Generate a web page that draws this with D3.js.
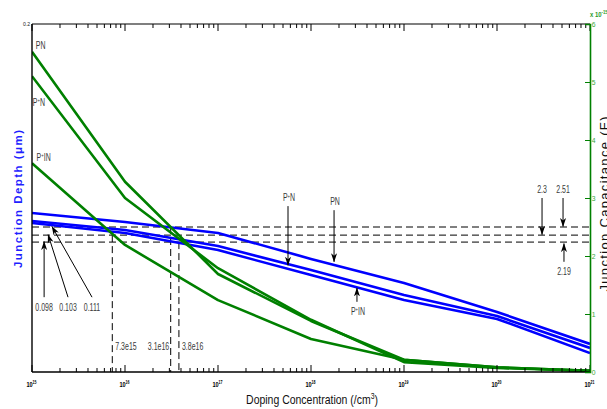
<!DOCTYPE html>
<html><head><meta charset="utf-8">
<script src="https://cdn.jsdelivr.net/npm/d3@7"></script>
<style>
html,body{margin:0;padding:0;background:#fff;}
svg{display:block;font-family:"Liberation Sans",Arial,sans-serif;}
</style></head>
<body>
<script>
// ---------- data ----------
const doping = [1e15, 1e16, 1e17, 1e18, 1e19, 1e20, 1e21];
const depthPN   = [0.0914, 0.0862, 0.0799, 0.0650, 0.0512, 0.0345, 0.0161];
const depthPpN  = [0.0868, 0.0816, 0.0724, 0.0586, 0.0443, 0.0322, 0.0138];
const depthPpIN = [0.0856, 0.0799, 0.0701, 0.0557, 0.0414, 0.0305, 0.0109];
const capPN   = [5.52, 3.28, 1.69, 0.88, 0.21, 0.08, 0.02];
const capPpN  = [5.10, 3.00, 1.79, 0.90, 0.17, 0.07, 0.02];
const capPpIN = [3.60, 2.19, 1.24, 0.57, 0.21, 0.08, 0.02];
const xTickExp = [15, 16, 17, 18, 19, 20, 21];
const rightTicks = [0, 1, 2, 3, 4, 5, 6];
const leftTicks = [0.2];
// crossing levels (capacitance, x1e-15 F) and their labels
const levels = [2.50, 2.36, 2.24];
const levelDepthLabels = ["0.111", "0.103", "0.098"];
const levelCapLabels = ["2.51", "2.3", "2.19"];
// vertical markers (doping) and the level they start from
const markDoping = [7.3e15, 3.1e16, 3.8e16];
const markTop = [2.36, 2.50, 2.24];
const markLabels = ["7.3e15", "3.1e16", "3.8e16"];

// ---------- layout ----------
const W = 607, H = 409;
const L = 32, R = 590, T = 24, B = 372;
const x = d3.scaleLog().domain([1e15, 1e21]).range([L, R]);
const yL = d3.scaleLinear().domain([0, 0.2]).range([B, T]);
const yR = d3.scaleLinear().domain([0, 6]).range([B, T]);

const svg = d3.select("body").append("svg").attr("width", W).attr("height", H);
const defs = svg.append("defs");
defs.append("marker").attr("id", "ah").attr("viewBox", "0 -4 9 8")
  .attr("refX", 8.5).attr("refY", 0).attr("markerWidth", 9).attr("markerHeight", 8)
  .attr("markerUnits", "userSpaceOnUse").attr("orient", "auto")
  .append("path").attr("d", "M0,-3 L9,0 L0,3 L2.5,0 Z").attr("fill", "#000");
defs.append("clipPath").attr("id", "clip").append("rect")
  .attr("x", L).attr("y", T - 2).attr("width", R - L).attr("height", B - T + 2);

const textCol = "#3a3a3a";

// ---------- dashed guide lines ----------
const g = svg.append("g");
g.selectAll("line.h").data(levels).join("line")
  .attr("x1", L).attr("x2", R).attr("y1", d => yR(d)).attr("y2", d => yR(d))
  .attr("stroke", "#000").attr("stroke-width", 1).attr("stroke-dasharray", "7,4");
g.selectAll("line.v").data(markDoping).join("line")
  .attr("x1", d => x(d)).attr("x2", d => x(d))
  .attr("y1", (d, i) => yR(markTop[i])).attr("y2", B)
  .attr("stroke", "#000").attr("stroke-width", 1).attr("stroke-dasharray", "7,4");

// ---------- curves ----------
const lineL = d3.line().x((d, i) => x(doping[i])).y(d => yL(d));
const lineR = d3.line().x((d, i) => x(doping[i])).y(d => yR(d));
const cg = svg.append("g").attr("clip-path", "url(#clip)");
[depthPN, depthPpN, depthPpIN].forEach(s =>
  cg.append("path").attr("d", lineL(s)).attr("fill", "none")
    .attr("stroke", "#0000ff").attr("stroke-width", 2.6).attr("stroke-linejoin", "round"));
[capPN, capPpN, capPpIN].forEach(s =>
  cg.append("path").attr("d", lineR(s)).attr("fill", "none")
    .attr("stroke", "#008000").attr("stroke-width", 2.6).attr("stroke-linejoin", "round"));

// ---------- axes ----------
const minor = [];
for (let e = 15; e < 21; e++) for (let m = 2; m <= 9; m++) minor.push(m * Math.pow(10, e));
const major = xTickExp.map(e => Math.pow(10, e));

const ax = svg.append("g");
function ticks(vals, y0, len) {
  ax.selectAll(null).data(vals).join("line")
    .attr("x1", d => x(d)).attr("x2", d => x(d)).attr("y1", y0).attr("y2", y0 + len)
    .attr("stroke", "#000").attr("stroke-width", 1);
}
ticks(minor, B, -4); ticks(major, B, -7);
ticks(minor, T, 4); ticks(major, T, 7);
ax.append("line").attr("x1", L).attr("x2", R).attr("y1", B).attr("y2", B).attr("stroke", "#000").attr("stroke-width", 1.6);
ax.append("line").attr("x1", L).attr("x2", R).attr("y1", T).attr("y2", T).attr("stroke", "#000").attr("stroke-width", 1.2);
ax.append("line").attr("x1", L).attr("x2", L).attr("y1", T).attr("y2", B).attr("stroke", "#000").attr("stroke-width", 1.4);

// condensed text helper: draws text at (px,py) squeezed horizontally
function squeezed(parent, px, py, sx, anchor) {
  return parent.append("g").attr("transform", `translate(${px},${py}) scale(${sx},1)`)
    .append("text").attr("x", 0).attr("y", 0).attr("text-anchor", anchor || "middle");
}

// x tick labels 10^n
xTickExp.forEach(e => {
  const t = squeezed(ax, x(Math.pow(10, e)) - 0.5, 387, 0.8, "middle")
    .attr("font-size", 7).attr("font-weight", "bold").attr("fill", "#000");
  t.append("tspan").text("10");
  t.append("tspan").attr("dy", -3).attr("font-size", 4.5).text(e);
});

// left axis: only the top label
leftTicks.forEach(v => squeezed(ax, L - 2, yL(v) + 2, 0.85, "end")
  .attr("font-size", 6).attr("fill", "#222").text(v));

// right axis (green)
const rAx = svg.append("g").attr("transform", `translate(${R},0)`)
  .call(d3.axisRight(yR).tickValues(rightTicks).tickSize(-5).tickPadding(2).tickFormat(d3.format("d")));
rAx.select(".domain").attr("stroke", "#008000").attr("stroke-width", 1.6);
rAx.selectAll(".tick line").attr("stroke", "#008000").attr("stroke-width", 1);
rAx.selectAll(".tick text").attr("fill", "#3aa63a").attr("font-size", 8)
  .attr("transform", "scale(0.85,1)");
const ex = squeezed(svg, R, 17, 0.85, "start").attr("font-size", 7)
  .attr("font-weight", "bold").attr("fill", "#2a9a2a");
ex.append("tspan").text("x 10");
ex.append("tspan").attr("dy", -3).attr("font-size", 5).text("-15");

// axis titles
svg.append("text").attr("transform", `translate(22,199) rotate(-90)`)
  .attr("text-anchor", "middle").attr("font-size", 11.5).attr("font-weight", "bold")
  .attr("fill", "#1f1fff").attr("textLength", 138).attr("lengthAdjust", "spacing")
  .text("Junction Depth (\u03bcm)");
svg.append("text").attr("transform", `translate(609,204) rotate(-90)`)
  .attr("text-anchor", "middle").attr("font-size", 13)
  .attr("fill", "#111").attr("textLength", 175).attr("lengthAdjust", "spacing")
  .text("Junction Capacitance (F)");
const xtG = svg.append("g");
const xt = xtG.append("text").attr("x", 0).attr("y", 0).attr("text-anchor", "middle")
  .attr("font-size", 13).attr("fill", "#111");
xt.append("tspan").text("Doping Concentration (/cm");
xt.append("tspan").attr("dy", -5).attr("font-size", 8.5).text("3");
xt.append("tspan").attr("dy", 5).text(")");
const xtw = xt.node().getBBox().width;
xtG.attr("transform", `translate(312,404) scale(${132 / xtw},1)`);

// ---------- annotations ----------
const ann = svg.append("g").attr("fill", textCol).attr("font-size", 10);
function arrow(x1, y1, x2, y2) {
  ann.append("line").attr("x1", x1).attr("y1", y1).attr("x2", x2).attr("y2", y2)
    .attr("stroke", "#000").attr("stroke-width", 1).attr("marker-end", "url(#ah)");
}
function label(t, px, py, anchor) {
  const el = squeezed(ann, px, py, 0.7, anchor);
  const parts = t.split("+");
  if (parts.length === 2) {
    el.append("tspan").text(parts[0]);
    el.append("tspan").attr("dy", -3.5).attr("font-size", 6).text("+");
    el.append("tspan").attr("dy", 3.5).text(parts[1]);
  } else el.text(t);
  return el;
}

// depth arrows (bottom-left)
const depthTailX = [1.35e15, 2.44e15, 4.42e15];
const depthHeadX = [1.35e15, 1.49e15, 1.64e15];
const depthRev = [2, 1, 0]; // label order 0.098, 0.103, 0.111
depthRev.forEach((li, k) => {
  arrow(x(depthTailX[k]), yR(1.29), x(depthHeadX[k]), yR(levels[li]) - 0.5);
  label(levelDepthLabels[li], x(depthTailX[k]), yR(1.29) + 14);
});

// capacitance arrows (right)
const capArrowX = [5.13e20, 3.05e20, 5.25e20];
[0, 1].forEach(i => {
  arrow(x(capArrowX[i]), yR(3.0), x(capArrowX[i]), yR(levels[i]) - 0.5);
  label(levelCapLabels[i], x(capArrowX[i]), yR(3.0) - 5);
});
arrow(x(capArrowX[2]), yR(1.9), x(capArrowX[2]), yR(levels[2]) + 1.5);
label(levelCapLabels[2], x(capArrowX[2]), yR(1.9) + 13);

// vertical marker labels
markDoping.forEach((d, i) => {
  label(markLabels[i], i === 1 ? x(d) - 1.5 : x(d) + 3, 350, i === 1 ? "end" : "start");
});

// curve labels with arrows
const curveArrows = [
  {t: "P+N", xd: 5.66e17, tail: 2.86, head: 1.84, up: false},
  {t: "PN", xd: 1.77e18, tail: 2.79, head: 1.90, up: false},
  {t: "P+IN", xd: 3.12e18, tail: 1.21, head: 1.45, up: true}
];
curveArrows.forEach(c => {
  arrow(x(c.xd), yR(c.tail), x(c.xd), yR(c.head));
  label(c.t, x(c.xd) + 1, c.up ? yR(c.tail) + 13 : yR(c.tail) - 5);
});

// green curve labels
const greenLabels = [
  {t: "PN", xd: 1.1e15, v: 5.57},
  {t: "P+N", xd: 1.02e15, v: 4.59},
  {t: "P+IN", xd: 1.12e15, v: 3.64}
];
greenLabels.forEach(c => label(c.t, x(c.xd), yR(c.v), "start"));
</script>
</body></html>
